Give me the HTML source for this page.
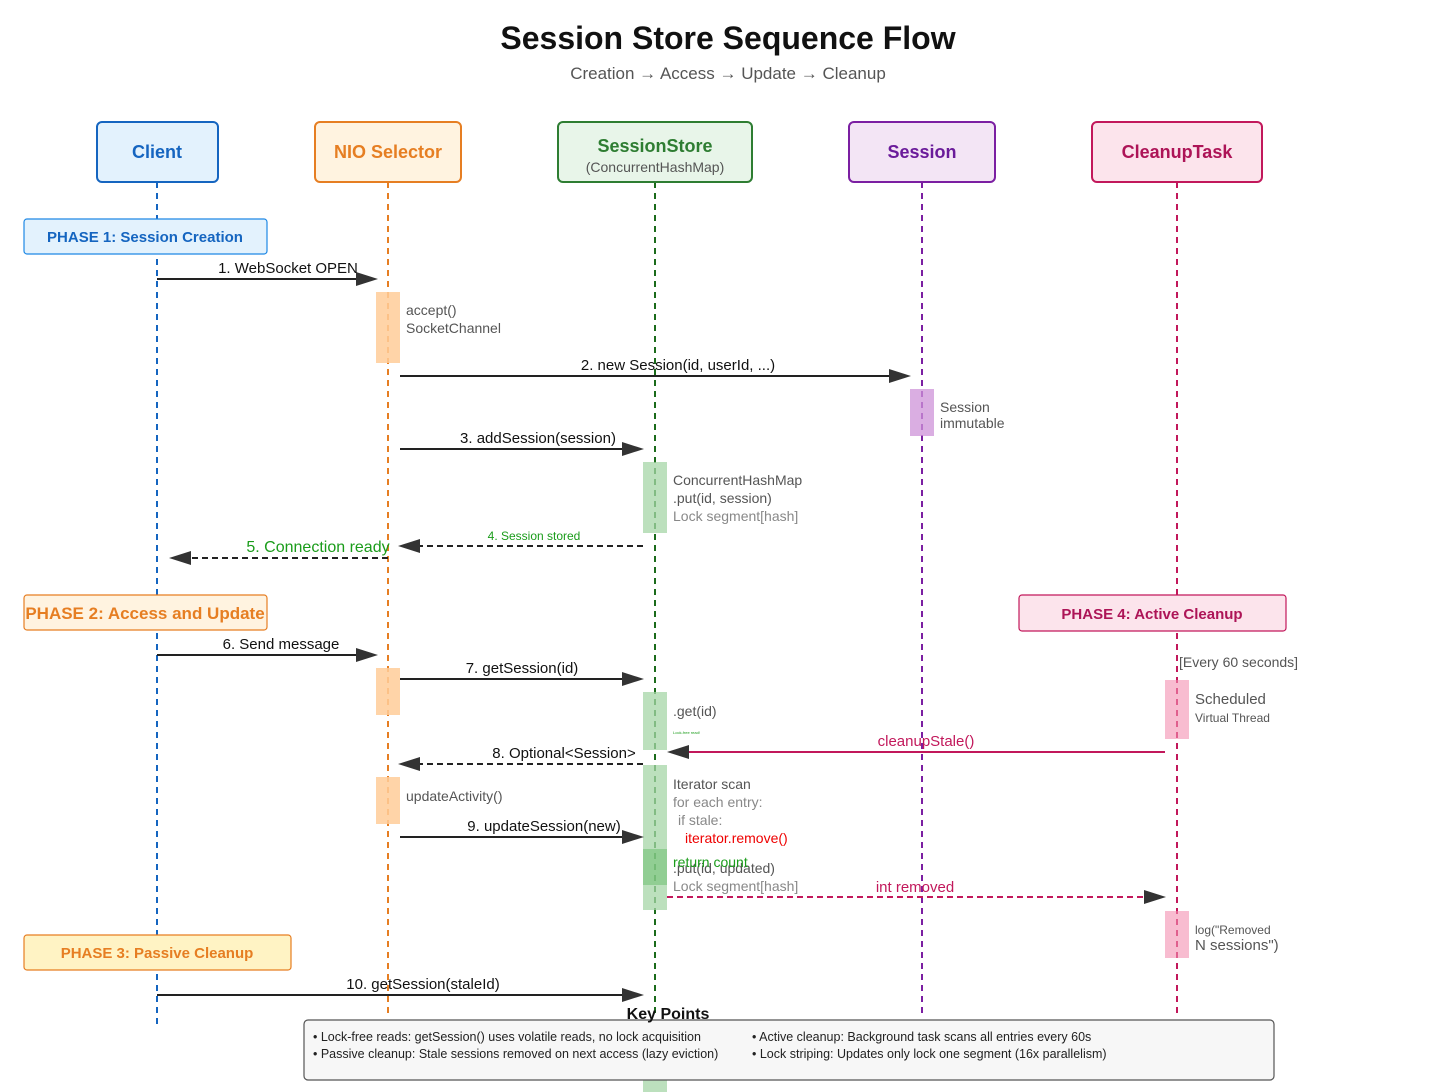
<!DOCTYPE html>
<html><head><meta charset="utf-8"><style>
html,body{margin:0;padding:0;background:#fff}
svg{display:block;font-family:"Liberation Sans",sans-serif}
</style></head><body>
<svg width="1456" height="1092" viewBox="0 0 1456 1092" xmlns="http://www.w3.org/2000/svg">
<text x="728" y="49" text-anchor="middle" font-size="32" font-weight="bold" fill="#111">Session Store Sequence Flow</text>
<text x="728" y="79" text-anchor="middle" font-size="17" fill="#555">Creation → Access → Update → Cleanup</text>

<!-- lifelines -->
<g stroke-width="2" stroke-dasharray="6,5" fill="none">
<line x1="157" y1="182" x2="157" y2="1025" stroke="#1565c0"/>
<line x1="388" y1="182" x2="388" y2="1015" stroke="#e67e22"/>
<line x1="655" y1="182" x2="655" y2="1015" stroke="#1b6b1b"/>
<line x1="922" y1="182" x2="922" y2="1015" stroke="#7b1fa2"/>
<line x1="1177" y1="182" x2="1177" y2="1015" stroke="#c2185b"/>
</g>

<!-- participant boxes -->
<rect x="97" y="122" width="121" height="60" rx="5" fill="#e3f2fd" stroke="#1565c0" stroke-width="2"/>
<text x="157" y="158" text-anchor="middle" font-size="18" font-weight="bold" fill="#1565c0">Client</text>
<rect x="315" y="122" width="146" height="60" rx="5" fill="#fff3e0" stroke="#e67e22" stroke-width="2"/>
<text x="388" y="158" text-anchor="middle" font-size="18" font-weight="bold" fill="#e67e22">NIO Selector</text>
<rect x="558" y="122" width="194" height="60" rx="5" fill="#e8f5e9" stroke="#2e7d32" stroke-width="2"/>
<text x="655" y="152" text-anchor="middle" font-size="18" font-weight="bold" fill="#2e7d32">SessionStore</text>
<text x="655" y="172" text-anchor="middle" font-size="14" fill="#555">(ConcurrentHashMap)</text>
<rect x="849" y="122" width="146" height="60" rx="5" fill="#f3e5f5" stroke="#7b1fa2" stroke-width="2"/>
<text x="922" y="158" text-anchor="middle" font-size="18" font-weight="bold" fill="#6a1b9a">Session</text>
<rect x="1092" y="122" width="170" height="60" rx="5" fill="#fce4ec" stroke="#c2185b" stroke-width="2"/>
<text x="1177" y="158" text-anchor="middle" font-size="18" font-weight="bold" fill="#ad1457">CleanupTask</text>

<!-- phases -->
<rect x="24" y="219" width="243" height="35" rx="3" fill="#e3f2fd" stroke="#1e88e5" stroke-width="1.2"/>
<text x="145" y="242" text-anchor="middle" font-size="15" font-weight="bold" fill="#1565c0">PHASE 1: Session Creation</text>
<rect x="24" y="595" width="243" height="35" rx="3" fill="#fff3e0" stroke="#e67e22" stroke-width="1.2"/>
<text x="145" y="619" text-anchor="middle" font-size="17" font-weight="bold" fill="#e67e22">PHASE 2: Access and Update</text>
<rect x="24" y="935" width="267" height="35" rx="3" fill="#fff3c4" stroke="#e67e22" stroke-width="1.2"/>
<text x="157" y="958" text-anchor="middle" font-size="15" font-weight="bold" fill="#e67e22">PHASE 3: Passive Cleanup</text>
<rect x="1019" y="595" width="267" height="36" rx="3" fill="#fce4ec" stroke="#c2185b" stroke-width="1.2"/>
<text x="1152" y="619" text-anchor="middle" font-size="15" font-weight="bold" fill="#ad1457">PHASE 4: Active Cleanup</text>

<!-- activation bars -->
<g fill="#ffcc99" opacity="0.85">
<rect x="376" y="292" width="24" height="71"/>
<rect x="376" y="668" width="24" height="47"/>
<rect x="376" y="777" width="24" height="47"/>
</g>
<g fill="#a5d6a7" opacity="0.75">
<rect x="643" y="462" width="24" height="71"/>
<rect x="643" y="692" width="24" height="58"/>
<rect x="643" y="765" width="24" height="145"/>
<rect x="643" y="1080" width="24" height="12"/>
</g>
<rect x="643" y="849" width="24" height="36" fill="#66bb6a" opacity="0.5"/>
<rect x="910" y="389" width="24" height="47" fill="#ce93d8" opacity="0.75"/>
<g fill="#f48fb1" opacity="0.6">
<rect x="1165" y="680" width="24" height="59"/>
<rect x="1165" y="911" width="24" height="47"/>
</g>

<!-- arrows -->
<g stroke="#222" stroke-width="2" fill="none">
<line x1="157" y1="279" x2="360" y2="279"/>
<line x1="400" y1="376" x2="892" y2="376"/>
<line x1="400" y1="449" x2="626" y2="449"/>
<line x1="643" y1="546" x2="418" y2="546" stroke-dasharray="6,4"/>
<line x1="388" y1="558" x2="189" y2="558" stroke-dasharray="6,4"/>
<line x1="157" y1="655" x2="360" y2="655"/>
<line x1="400" y1="679" x2="626" y2="679"/>
<line x1="643" y1="764" x2="418" y2="764" stroke-dasharray="6,4"/>
<line x1="400" y1="837" x2="626" y2="837"/>
<line x1="157" y1="995" x2="626" y2="995"/>
</g>
<line x1="1165" y1="752" x2="687" y2="752" stroke="#c2185b" stroke-width="2"/>
<line x1="667" y1="897" x2="1146" y2="897" stroke="#c2185b" stroke-width="2" stroke-dasharray="6,4"/>
<g fill="#333">
<polygon points="378,279 356,272 356,286"/>
<polygon points="911,376 889,369 889,383"/>
<polygon points="644,449 622,442 622,456"/>
<polygon points="398,546 420,539 420,553"/>
<polygon points="169,558 191,551 191,565"/>
<polygon points="378,655 356,648 356,662"/>
<polygon points="644,679 622,672 622,686"/>
<polygon points="398,764 420,757 420,771"/>
<polygon points="667,752 689,745 689,759"/>
<polygon points="644,837 622,830 622,844"/>
<polygon points="1166,897 1144,890 1144,904"/>
<polygon points="644,995 622,988 622,1002"/>
</g>

<!-- labels -->
<g font-size="15" fill="#111" text-anchor="middle">
<text x="288" y="273">1. WebSocket OPEN</text>
<text x="678" y="370">2. new Session(id, userId, ...)</text>
<text x="538" y="443">3. addSession(session)</text>
<text x="281" y="649">6. Send message</text>
<text x="522" y="673">7. getSession(id)</text>
<text x="564" y="758">8. Optional&lt;Session&gt;</text>
<text x="544" y="831">9. updateSession(new)</text>
<text x="423" y="989">10. getSession(staleId)</text>
</g>
<text x="534" y="540" text-anchor="middle" font-size="12" fill="#1a9c1a">4. Session stored</text>
<text x="318" y="552" text-anchor="middle" font-size="16" fill="#1a9c1a">5. Connection ready</text>
<text x="926" y="746" text-anchor="middle" font-size="15" fill="#c2185b">cleanupStale()</text>
<text x="915" y="892" text-anchor="middle" font-size="15" fill="#c2185b">int removed</text>

<g font-size="14" fill="#555">
<text x="406" y="315">accept()</text>
<text x="406" y="333">SocketChannel</text>
<text x="940" y="412">Session</text>
<text x="940" y="428">immutable</text>
<text x="673" y="485">ConcurrentHashMap</text>
<text x="673" y="503">.put(id, session)</text>
<text x="673" y="521" fill="#888">Lock segment[hash]</text>
<text x="673" y="716">.get(id)</text>
<text x="406" y="801">updateActivity()</text>
<text x="673" y="789">Iterator scan</text>
<text x="673" y="807" fill="#888">for each entry:</text>
<text x="678" y="825" fill="#888">if stale:</text>
<text x="685" y="843" fill="#e00">iterator.remove()</text>
<text x="673" y="873">.put(id, updated)</text>
<text x="673" y="891" fill="#888">Lock segment[hash]</text>
<text x="673" y="867" fill="#1a9c1a">return count</text>
<text x="1179" y="667">[Every 60 seconds]</text>
<text x="1195" y="704" font-size="15">Scheduled</text>
<text x="1195" y="722" font-size="12">Virtual Thread</text>
<text x="1195" y="934" font-size="12">log("Removed</text>
<text x="1195" y="950" font-size="15">N sessions")</text>
</g>
<text x="673" y="734" font-size="4" fill="#1a9c1a">Lock-free read!</text>

<!-- key points -->
<rect x="304" y="1020" width="970" height="60" rx="4" fill="#f7f7f7" stroke="#555" stroke-width="1.2"/>
<text x="668" y="1019" text-anchor="middle" font-size="16" font-weight="bold" fill="#111">Key Points</text>
<g font-size="12.5" fill="#222">
<text x="313" y="1041">• Lock-free reads: getSession() uses volatile reads, no lock acquisition</text>
<text x="313" y="1058">• Passive cleanup: Stale sessions removed on next access (lazy eviction)</text>
<text x="752" y="1041">• Active cleanup: Background task scans all entries every 60s</text>
<text x="752" y="1058">• Lock striping: Updates only lock one segment (16x parallelism)</text>
</g>
</svg>
</body></html>
